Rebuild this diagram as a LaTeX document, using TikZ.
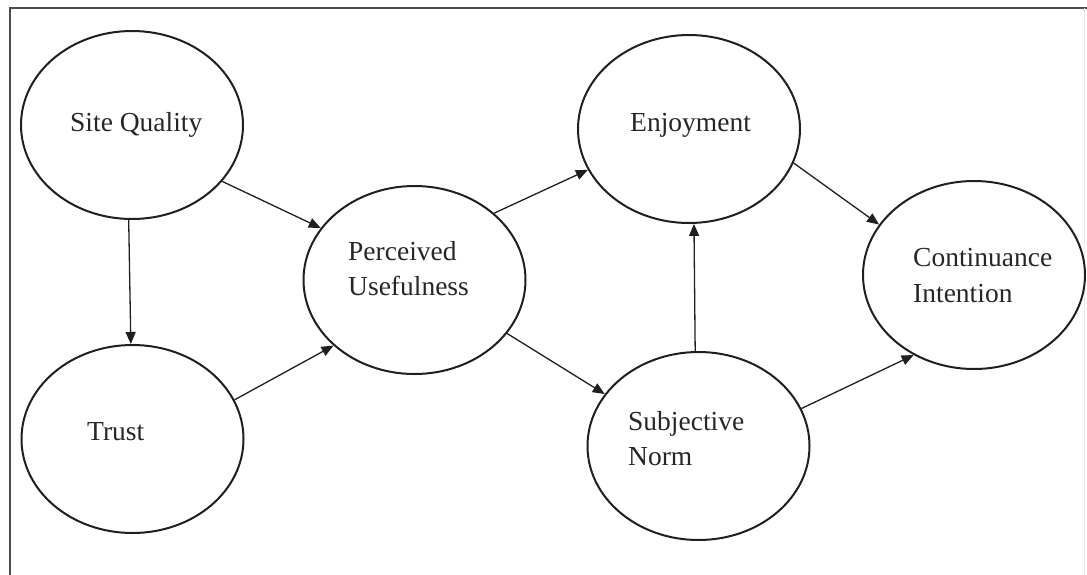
\documentclass[tikz,border=0pt]{standalone}
\usepackage{fontspec}
\setmainfont{Liberation Serif}
\usetikzlibrary{shapes.geometric,arrows.meta}
\begin{document}
\begin{tikzpicture}[x=1pt,y=-1pt,
  ell/.style={draw=black!88, ellipse, minimum width=222pt, minimum height=188pt, inner sep=0pt, line width=2pt},
  lbl/.style={anchor=base west, inner sep=0pt, text=black!85, font=\fontsize{27.5}{35}\selectfont},
  arr/.style={draw=black!88, line width=1.3pt, -{Triangle[length=12pt,width=10pt]}},
  frame/.style={draw=black!70, line width=2.6pt}]
\useasboundingbox (0,0) rectangle (1087,574);
% frame
\coordinate (fbl) at (10,580);
\coordinate (ftl) at (10,8);
\coordinate (ftr) at (1095,8);
\draw[frame] (fbl) -- (ftl) -- (ftr);
\coordinate (rtop) at (1084,8);
\coordinate (rbot) at (1084,580);
\draw[black!8, line width=1pt] (rtop) -- (rbot);
% ellipses
\node[ell] (sq) at (132,125) {};
\node[ell] (tr) at (132.5,439) {};
\node[ell] (pu) at (414.5,280) {};
\node[ell] (en) at (689,129) {};
\node[ell] (sn) at (698.5,446) {};
\node[ell] (ci) at (974,275) {};
% labels
\node[lbl] (sqt) at (70,131) {Site Quality};
\node[lbl] (trt) at (87,440.5) {Trust};
\node[lbl] (put1) at (348,260) {Perceived};
\node[lbl] (put2) at (348,295.5) {Usefulness};
\node[lbl] (ent) at (630,131.5) {Enjoyment};
\node[lbl] (snt1) at (628,430) {Subjective};
\node[lbl] (snt2) at (628,465) {Norm};
\node[lbl] (cit1) at (913,266) {Continuance};
\node[lbl] (cit2) at (913,302) {Intention};
% connectors
\draw[arr] (sq.-92) -- (tr.91);
\draw[arr] (sq.-32) -- (pu.151.5);
\draw[arr] (tr.21.7) -- (pu.219.1);
\draw[arr] (pu.40.5) -- (en.202.9);
\draw[arr] (pu.-30.9) -- (sn.151.3);
\draw[arr] (sn.92.7) -- (en.-87.6);
\draw[arr] (en.-18.8) -- (ci.152);
\draw[arr] (sn.20) -- (ci.233.8);
\end{tikzpicture}
\end{document}
